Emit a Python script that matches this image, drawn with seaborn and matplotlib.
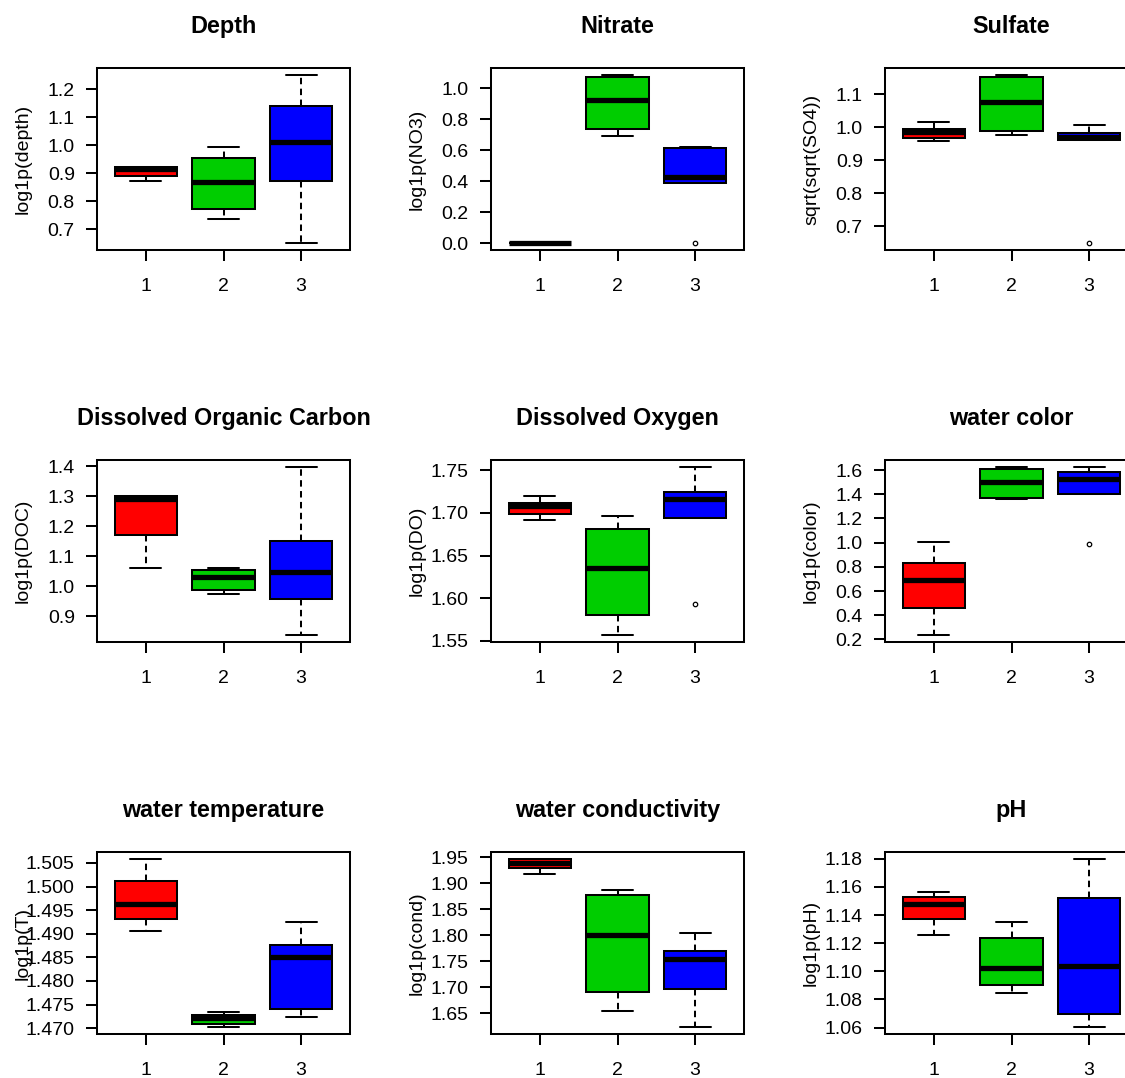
import matplotlib
matplotlib.use("Agg")
import matplotlib.pyplot as plt
import pandas as pd
import seaborn as sns

# ---------------- data ----------------
groups = ["1", "2", "3"]
box_colors = ["#FF0000", "#00CD00", "#0000FF"]

titles = ["Depth", "Nitrate", "Sulfate",
          "Dissolved Organic Carbon", "Dissolved Oxygen", "water color",
          "water temperature", "water conductivity", "pH"]
ylabels = ["log1p(depth)", "log1p(NO3)", "sqrt(sqrt(SO4))",
           "log1p(DOC)", "log1p(DO)", "log1p(color)",
           "log1p(T)", "log1p(cond)", "log1p(pH)"]

# observations per cluster (whisker ends, hinges, median, outliers)
depth = [[0.872, 0.890, 0.917, 0.922, 0.924],
         [0.738, 0.774, 0.868, 0.956, 0.994],
         [0.650, 0.871, 1.013, 1.140, 1.252]]
nitrate = [[0.0, 0.0, 0.0, 0.0, 0.0],
           [0.691, 0.736, 0.921, 1.071, 1.086],
           [0.0, 0.388, 0.388, 0.388, 0.427, 0.612, 0.612, 0.622, 0.622]]
sulfate = [[0.957, 0.967, 0.987, 0.996, 1.017],
           [0.978, 0.988, 1.078, 1.152, 1.159],
           [0.649, 0.962, 0.962, 0.962, 0.971, 0.982, 0.982, 1.006, 1.006]]
doc = [[1.062, 1.173, 1.292, 1.300, 1.300],
       [0.975, 0.987, 1.031, 1.056, 1.061],
       [0.837, 0.959, 1.047, 1.152, 1.399]]
dissolved_oxygen = [[1.6921, 1.6984, 1.7079, 1.7118, 1.7197],
                    [1.5567, 1.5803, 1.6354, 1.6815, 1.6965],
                    [1.5933, 1.6941, 1.6941, 1.6941, 1.7165, 1.7244, 1.7244, 1.7539, 1.7539]]
water_color = [[0.234, 0.458, 0.687, 0.835, 1.003],
               [1.360, 1.371, 1.500, 1.611, 1.628],
               [0.986, 1.405, 1.405, 1.405, 1.528, 1.583, 1.583, 1.628, 1.628]]
temperature = [[1.4905, 1.4931, 1.4964, 1.5012, 1.5059],
               [1.4702, 1.4708, 1.4722, 1.4729, 1.4734],
               [1.4724, 1.4740, 1.4850, 1.4877, 1.4924]]
conductivity = [[1.9177, 1.9281, 1.9390, 1.9468, 1.9468],
                [1.6539, 1.6910, 1.8000, 1.8768, 1.8865],
                [1.6229, 1.6961, 1.7545, 1.7690, 1.8032]]
ph = [[1.1258, 1.1373, 1.1481, 1.1531, 1.1567],
      [1.0847, 1.0900, 1.1022, 1.1234, 1.1351],
      [1.0602, 1.0695, 1.1041, 1.1519, 1.1800]]

panels = [depth, nitrate, sulfate, doc, dissolved_oxygen, water_color,
          temperature, conductivity, ph]

# y tick labels per panel
depth_ticks = ["0.7", "0.8", "0.9", "1.0", "1.1", "1.2"]
nitrate_ticks = ["0.0", "0.2", "0.4", "0.6", "0.8", "1.0"]
sulfate_ticks = ["0.7", "0.8", "0.9", "1.0", "1.1"]
doc_ticks = ["0.9", "1.0", "1.1", "1.2", "1.3", "1.4"]
do_ticks = ["1.55", "1.60", "1.65", "1.70", "1.75"]
color_ticks = ["0.2", "0.4", "0.6", "0.8", "1.0", "1.2", "1.4", "1.6"]
temp_ticks = ["1.470", "1.475", "1.480", "1.485", "1.490", "1.495", "1.500", "1.505"]
cond_ticks = ["1.65", "1.70", "1.75", "1.80", "1.85", "1.90", "1.95"]
ph_ticks = ["1.06", "1.08", "1.10", "1.12", "1.14", "1.16", "1.18"]
tick_sets = [depth_ticks, nitrate_ticks, sulfate_ticks, doc_ticks, do_ticks,
             color_ticks, temp_ticks, cond_ticks, ph_ticks]

# ---------------- style ----------------
sns.set_theme(style="ticks")
plt.rcParams["font.family"] = ["Liberation Sans", "DejaVu Sans"]
plt.rcParams["axes.edgecolor"] = "black"
plt.rcParams["xtick.color"] = "black"
plt.rcParams["ytick.color"] = "black"
plt.rcParams["text.color"] = "black"
plt.rcParams["axes.labelcolor"] = "black"

W, H = 1125, 1078
fig = plt.figure(figsize=(W / 100, H / 100), dpi=100)
fig.patch.set_facecolor("white")

col_left = [97, 491, 885]
row_top = [68, 460, 852]
ax_w, ax_h = 253, 182
LW = 1.45

for i, vals in enumerate(panels):
    r, c = divmod(i, 3)
    left = col_left[c] / W
    bottom = 1 - (row_top[r] + ax_h) / H
    ax = fig.add_axes([left, bottom, ax_w / W, ax_h / H])
    ax.set_facecolor("white")

    df = pd.DataFrame({
        "group": [g for g, v in zip(groups, vals) for _ in v],
        "value": [x for v in vals for x in v],
    })

    sns.boxplot(
        data=df, x="group", y="value", hue="group",
        order=groups, hue_order=groups, palette=box_colors,
        saturation=1, width=0.8, whis=1.5, fliersize=3.2,
        linecolor="black", legend=False, ax=ax,
        boxprops=dict(linewidth=LW),
        whiskerprops=dict(linewidth=LW, linestyle=(0, (3.2, 2.2))),
        capprops=dict(linewidth=LW),
        medianprops=dict(linewidth=3.8),
        flierprops=dict(marker="o", markerfacecolor="none",
                        markeredgecolor="black", markeredgewidth=0.9),
    )

    allv = [x for v in vals for x in v]
    lo, hi = min(allv), max(allv)
    pad = 0.04 * (hi - lo)
    ax.set_ylim(lo - pad, hi + pad)
    ax.set_xlim(-0.63, 2.63)

    ticks = tick_sets[i]
    ax.set_yticks([float(t) for t in ticks])
    ax.set_yticklabels(ticks)
    ax.set_xticks([0, 1, 2])
    ax.set_xticklabels(groups)

    ax.set_xlabel("")
    ax.set_ylabel(ylabels[i], fontsize=14)
    ax.yaxis.set_label_coords(-0.257, 0.5)
    ax.set_title(titles[i], fontsize=16.8, fontweight="bold", pad=25)

    ax.tick_params(axis="both", direction="out", length=8, width=LW,
                   labelsize=14, color="black")
    ax.tick_params(axis="y", pad=8)
    ax.tick_params(axis="x", pad=12.5)
    for s in ax.spines.values():
        s.set_visible(True)
        s.set_linewidth(LW)
        s.set_color("black")

fig.savefig("out.png", dpi=100, facecolor="white")
